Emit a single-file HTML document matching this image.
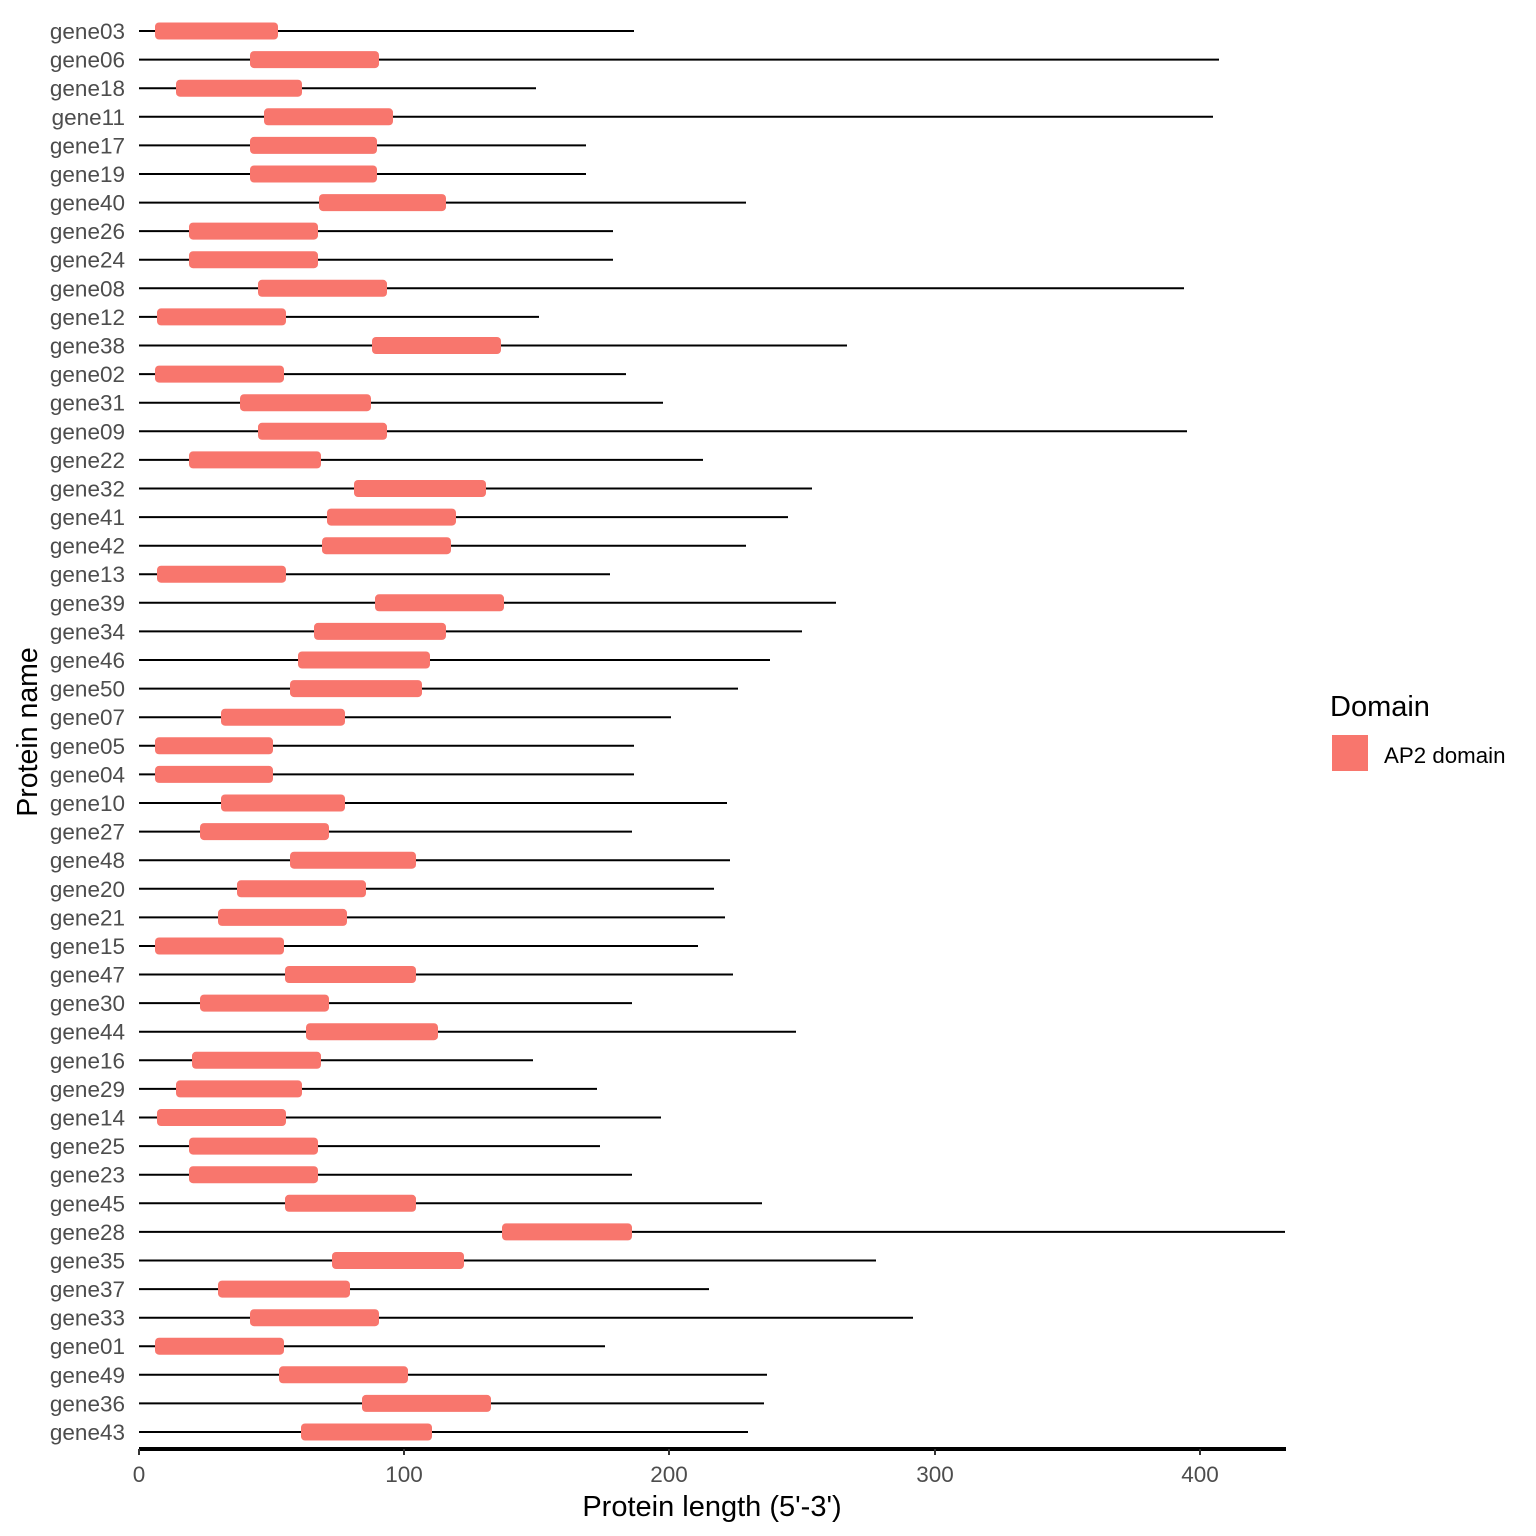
<!DOCTYPE html>
<html><head><meta charset="utf-8"><style>
html,body{margin:0;padding:0;background:#fff;}
svg{display:block;font-family:"Liberation Sans",Arial,sans-serif;}
.l{fill:#4d4d4d;font-size:22.5px;text-anchor:end;}
.r{fill:#F8766D;}
</style></head><body>
<svg width="1536" height="1536" viewBox="0 0 1536 1536">
<g stroke="#000" stroke-width="2">
<line x1="139" x2="634" y1="31.0" y2="31.0"/>
<line x1="139" x2="1219" y1="59.6" y2="59.6"/>
<line x1="139" x2="536" y1="88.2" y2="88.2"/>
<line x1="139" x2="1213" y1="116.8" y2="116.8"/>
<line x1="139" x2="586" y1="145.4" y2="145.4"/>
<line x1="139" x2="586" y1="174.0" y2="174.0"/>
<line x1="139" x2="746" y1="202.6" y2="202.6"/>
<line x1="139" x2="613" y1="231.1" y2="231.1"/>
<line x1="139" x2="613" y1="259.7" y2="259.7"/>
<line x1="139" x2="1184" y1="288.3" y2="288.3"/>
<line x1="139" x2="539" y1="316.9" y2="316.9"/>
<line x1="139" x2="847" y1="345.5" y2="345.5"/>
<line x1="139" x2="626" y1="374.1" y2="374.1"/>
<line x1="139" x2="663" y1="402.7" y2="402.7"/>
<line x1="139" x2="1187" y1="431.3" y2="431.3"/>
<line x1="139" x2="703" y1="459.9" y2="459.9"/>
<line x1="139" x2="812" y1="488.5" y2="488.5"/>
<line x1="139" x2="788" y1="517.1" y2="517.1"/>
<line x1="139" x2="746" y1="545.7" y2="545.7"/>
<line x1="139" x2="610" y1="574.2" y2="574.2"/>
<line x1="139" x2="836" y1="602.8" y2="602.8"/>
<line x1="139" x2="802" y1="631.4" y2="631.4"/>
<line x1="139" x2="770" y1="660.0" y2="660.0"/>
<line x1="139" x2="738" y1="688.6" y2="688.6"/>
<line x1="139" x2="671" y1="717.2" y2="717.2"/>
<line x1="139" x2="634" y1="745.8" y2="745.8"/>
<line x1="139" x2="634" y1="774.4" y2="774.4"/>
<line x1="139" x2="727" y1="803.0" y2="803.0"/>
<line x1="139" x2="632" y1="831.6" y2="831.6"/>
<line x1="139" x2="730" y1="860.2" y2="860.2"/>
<line x1="139" x2="714" y1="888.8" y2="888.8"/>
<line x1="139" x2="725" y1="917.4" y2="917.4"/>
<line x1="139" x2="698" y1="946.0" y2="946.0"/>
<line x1="139" x2="733" y1="974.5" y2="974.5"/>
<line x1="139" x2="632" y1="1003.1" y2="1003.1"/>
<line x1="139" x2="796" y1="1031.7" y2="1031.7"/>
<line x1="139" x2="533" y1="1060.3" y2="1060.3"/>
<line x1="139" x2="597" y1="1088.9" y2="1088.9"/>
<line x1="139" x2="661" y1="1117.5" y2="1117.5"/>
<line x1="139" x2="600" y1="1146.1" y2="1146.1"/>
<line x1="139" x2="632" y1="1174.7" y2="1174.7"/>
<line x1="139" x2="762" y1="1203.3" y2="1203.3"/>
<line x1="139" x2="1285" y1="1231.9" y2="1231.9"/>
<line x1="139" x2="876" y1="1260.5" y2="1260.5"/>
<line x1="139" x2="709" y1="1289.1" y2="1289.1"/>
<line x1="139" x2="913" y1="1317.7" y2="1317.7"/>
<line x1="139" x2="605" y1="1346.2" y2="1346.2"/>
<line x1="139" x2="767" y1="1374.8" y2="1374.8"/>
<line x1="139" x2="764" y1="1403.4" y2="1403.4"/>
<line x1="139" x2="748" y1="1432.0" y2="1432.0"/>
</g>
<g class="r">
<rect x="155" width="123" y="22.5" height="17" rx="4"/>
<rect x="250" width="129" y="51.1" height="17" rx="4"/>
<rect x="176" width="126" y="79.7" height="17" rx="4"/>
<rect x="264" width="129" y="108.3" height="17" rx="4"/>
<rect x="250" width="127" y="136.9" height="17" rx="4"/>
<rect x="250" width="127" y="165.5" height="17" rx="4"/>
<rect x="319" width="127" y="194.1" height="17" rx="4"/>
<rect x="189" width="129" y="222.6" height="17" rx="4"/>
<rect x="189" width="129" y="251.2" height="17" rx="4"/>
<rect x="258" width="129" y="279.8" height="17" rx="4"/>
<rect x="157" width="129" y="308.4" height="17" rx="4"/>
<rect x="372" width="129" y="337.0" height="17" rx="4"/>
<rect x="155" width="129" y="365.6" height="17" rx="4"/>
<rect x="240" width="131" y="394.2" height="17" rx="4"/>
<rect x="258" width="129" y="422.8" height="17" rx="4"/>
<rect x="189" width="132" y="451.4" height="17" rx="4"/>
<rect x="354" width="132" y="480.0" height="17" rx="4"/>
<rect x="327" width="129" y="508.6" height="17" rx="4"/>
<rect x="322" width="129" y="537.2" height="17" rx="4"/>
<rect x="157" width="129" y="565.7" height="17" rx="4"/>
<rect x="375" width="129" y="594.3" height="17" rx="4"/>
<rect x="314" width="132" y="622.9" height="17" rx="4"/>
<rect x="298" width="132" y="651.5" height="17" rx="4"/>
<rect x="290" width="132" y="680.1" height="17" rx="4"/>
<rect x="221" width="124" y="708.7" height="17" rx="4"/>
<rect x="155" width="118" y="737.3" height="17" rx="4"/>
<rect x="155" width="118" y="765.9" height="17" rx="4"/>
<rect x="221" width="124" y="794.5" height="17" rx="4"/>
<rect x="200" width="129" y="823.1" height="17" rx="4"/>
<rect x="290" width="126" y="851.7" height="17" rx="4"/>
<rect x="237" width="129" y="880.3" height="17" rx="4"/>
<rect x="218" width="129" y="908.9" height="17" rx="4"/>
<rect x="155" width="129" y="937.5" height="17" rx="4"/>
<rect x="285" width="131" y="966.0" height="17" rx="4"/>
<rect x="200" width="129" y="994.6" height="17" rx="4"/>
<rect x="306" width="132" y="1023.2" height="17" rx="4"/>
<rect x="192" width="129" y="1051.8" height="17" rx="4"/>
<rect x="176" width="126" y="1080.4" height="17" rx="4"/>
<rect x="157" width="129" y="1109.0" height="17" rx="4"/>
<rect x="189" width="129" y="1137.6" height="17" rx="4"/>
<rect x="189" width="129" y="1166.2" height="17" rx="4"/>
<rect x="285" width="131" y="1194.8" height="17" rx="4"/>
<rect x="502" width="130" y="1223.4" height="17" rx="4"/>
<rect x="332" width="132" y="1252.0" height="17" rx="4"/>
<rect x="218" width="132" y="1280.6" height="17" rx="4"/>
<rect x="250" width="129" y="1309.2" height="17" rx="4"/>
<rect x="155" width="129" y="1337.7" height="17" rx="4"/>
<rect x="279" width="129" y="1366.3" height="17" rx="4"/>
<rect x="362" width="129" y="1394.9" height="17" rx="4"/>
<rect x="301" width="131" y="1423.5" height="17" rx="4"/>
</g>
<g class="l">
<text x="125" y="39.0">gene03</text>
<text x="125" y="67.6">gene06</text>
<text x="125" y="96.2">gene18</text>
<text x="125" y="124.8">gene11</text>
<text x="125" y="153.4">gene17</text>
<text x="125" y="182.0">gene19</text>
<text x="125" y="210.6">gene40</text>
<text x="125" y="239.1">gene26</text>
<text x="125" y="267.7">gene24</text>
<text x="125" y="296.3">gene08</text>
<text x="125" y="324.9">gene12</text>
<text x="125" y="353.5">gene38</text>
<text x="125" y="382.1">gene02</text>
<text x="125" y="410.7">gene31</text>
<text x="125" y="439.3">gene09</text>
<text x="125" y="467.9">gene22</text>
<text x="125" y="496.5">gene32</text>
<text x="125" y="525.1">gene41</text>
<text x="125" y="553.7">gene42</text>
<text x="125" y="582.2">gene13</text>
<text x="125" y="610.8">gene39</text>
<text x="125" y="639.4">gene34</text>
<text x="125" y="668.0">gene46</text>
<text x="125" y="696.6">gene50</text>
<text x="125" y="725.2">gene07</text>
<text x="125" y="753.8">gene05</text>
<text x="125" y="782.4">gene04</text>
<text x="125" y="811.0">gene10</text>
<text x="125" y="839.6">gene27</text>
<text x="125" y="868.2">gene48</text>
<text x="125" y="896.8">gene20</text>
<text x="125" y="925.4">gene21</text>
<text x="125" y="954.0">gene15</text>
<text x="125" y="982.5">gene47</text>
<text x="125" y="1011.1">gene30</text>
<text x="125" y="1039.7">gene44</text>
<text x="125" y="1068.3">gene16</text>
<text x="125" y="1096.9">gene29</text>
<text x="125" y="1125.5">gene14</text>
<text x="125" y="1154.1">gene25</text>
<text x="125" y="1182.7">gene23</text>
<text x="125" y="1211.3">gene45</text>
<text x="125" y="1239.9">gene28</text>
<text x="125" y="1268.5">gene35</text>
<text x="125" y="1297.1">gene37</text>
<text x="125" y="1325.7">gene33</text>
<text x="125" y="1354.2">gene01</text>
<text x="125" y="1382.8">gene49</text>
<text x="125" y="1411.4">gene36</text>
<text x="125" y="1440.0">gene43</text>
</g>
<line x1="139" x2="1286" y1="1449" y2="1449" stroke="#000" stroke-width="4"/>
<g stroke="#333" stroke-width="2">
<line x1="139" x2="139" y1="1449" y2="1455"/>
<line x1="404" x2="404" y1="1449" y2="1455"/>
<line x1="669" x2="669" y1="1449" y2="1455"/>
<line x1="935" x2="935" y1="1449" y2="1455"/>
<line x1="1200" x2="1200" y1="1449" y2="1455"/>
</g>
<g fill="#4d4d4d" font-size="22.5" text-anchor="middle">
<text x="139" y="1482">0</text>
<text x="404" y="1482">100</text>
<text x="669" y="1482">200</text>
<text x="935" y="1482">300</text>
<text x="1200" y="1482">400</text>
</g>
<text x="712" y="1516" font-size="29" text-anchor="middle" fill="#000">Protein length (5'-3')</text>
<text transform="translate(37,732) rotate(-90)" font-size="28.5" text-anchor="middle" fill="#000">Protein name</text>
<text x="1330" y="716" font-size="29" fill="#000">Domain</text>
<rect x="1332" y="735" width="36" height="36" fill="#F8766D"/>
<text x="1384" y="763" font-size="22.3" fill="#000">AP2 domain</text>
</svg>
</body></html>
